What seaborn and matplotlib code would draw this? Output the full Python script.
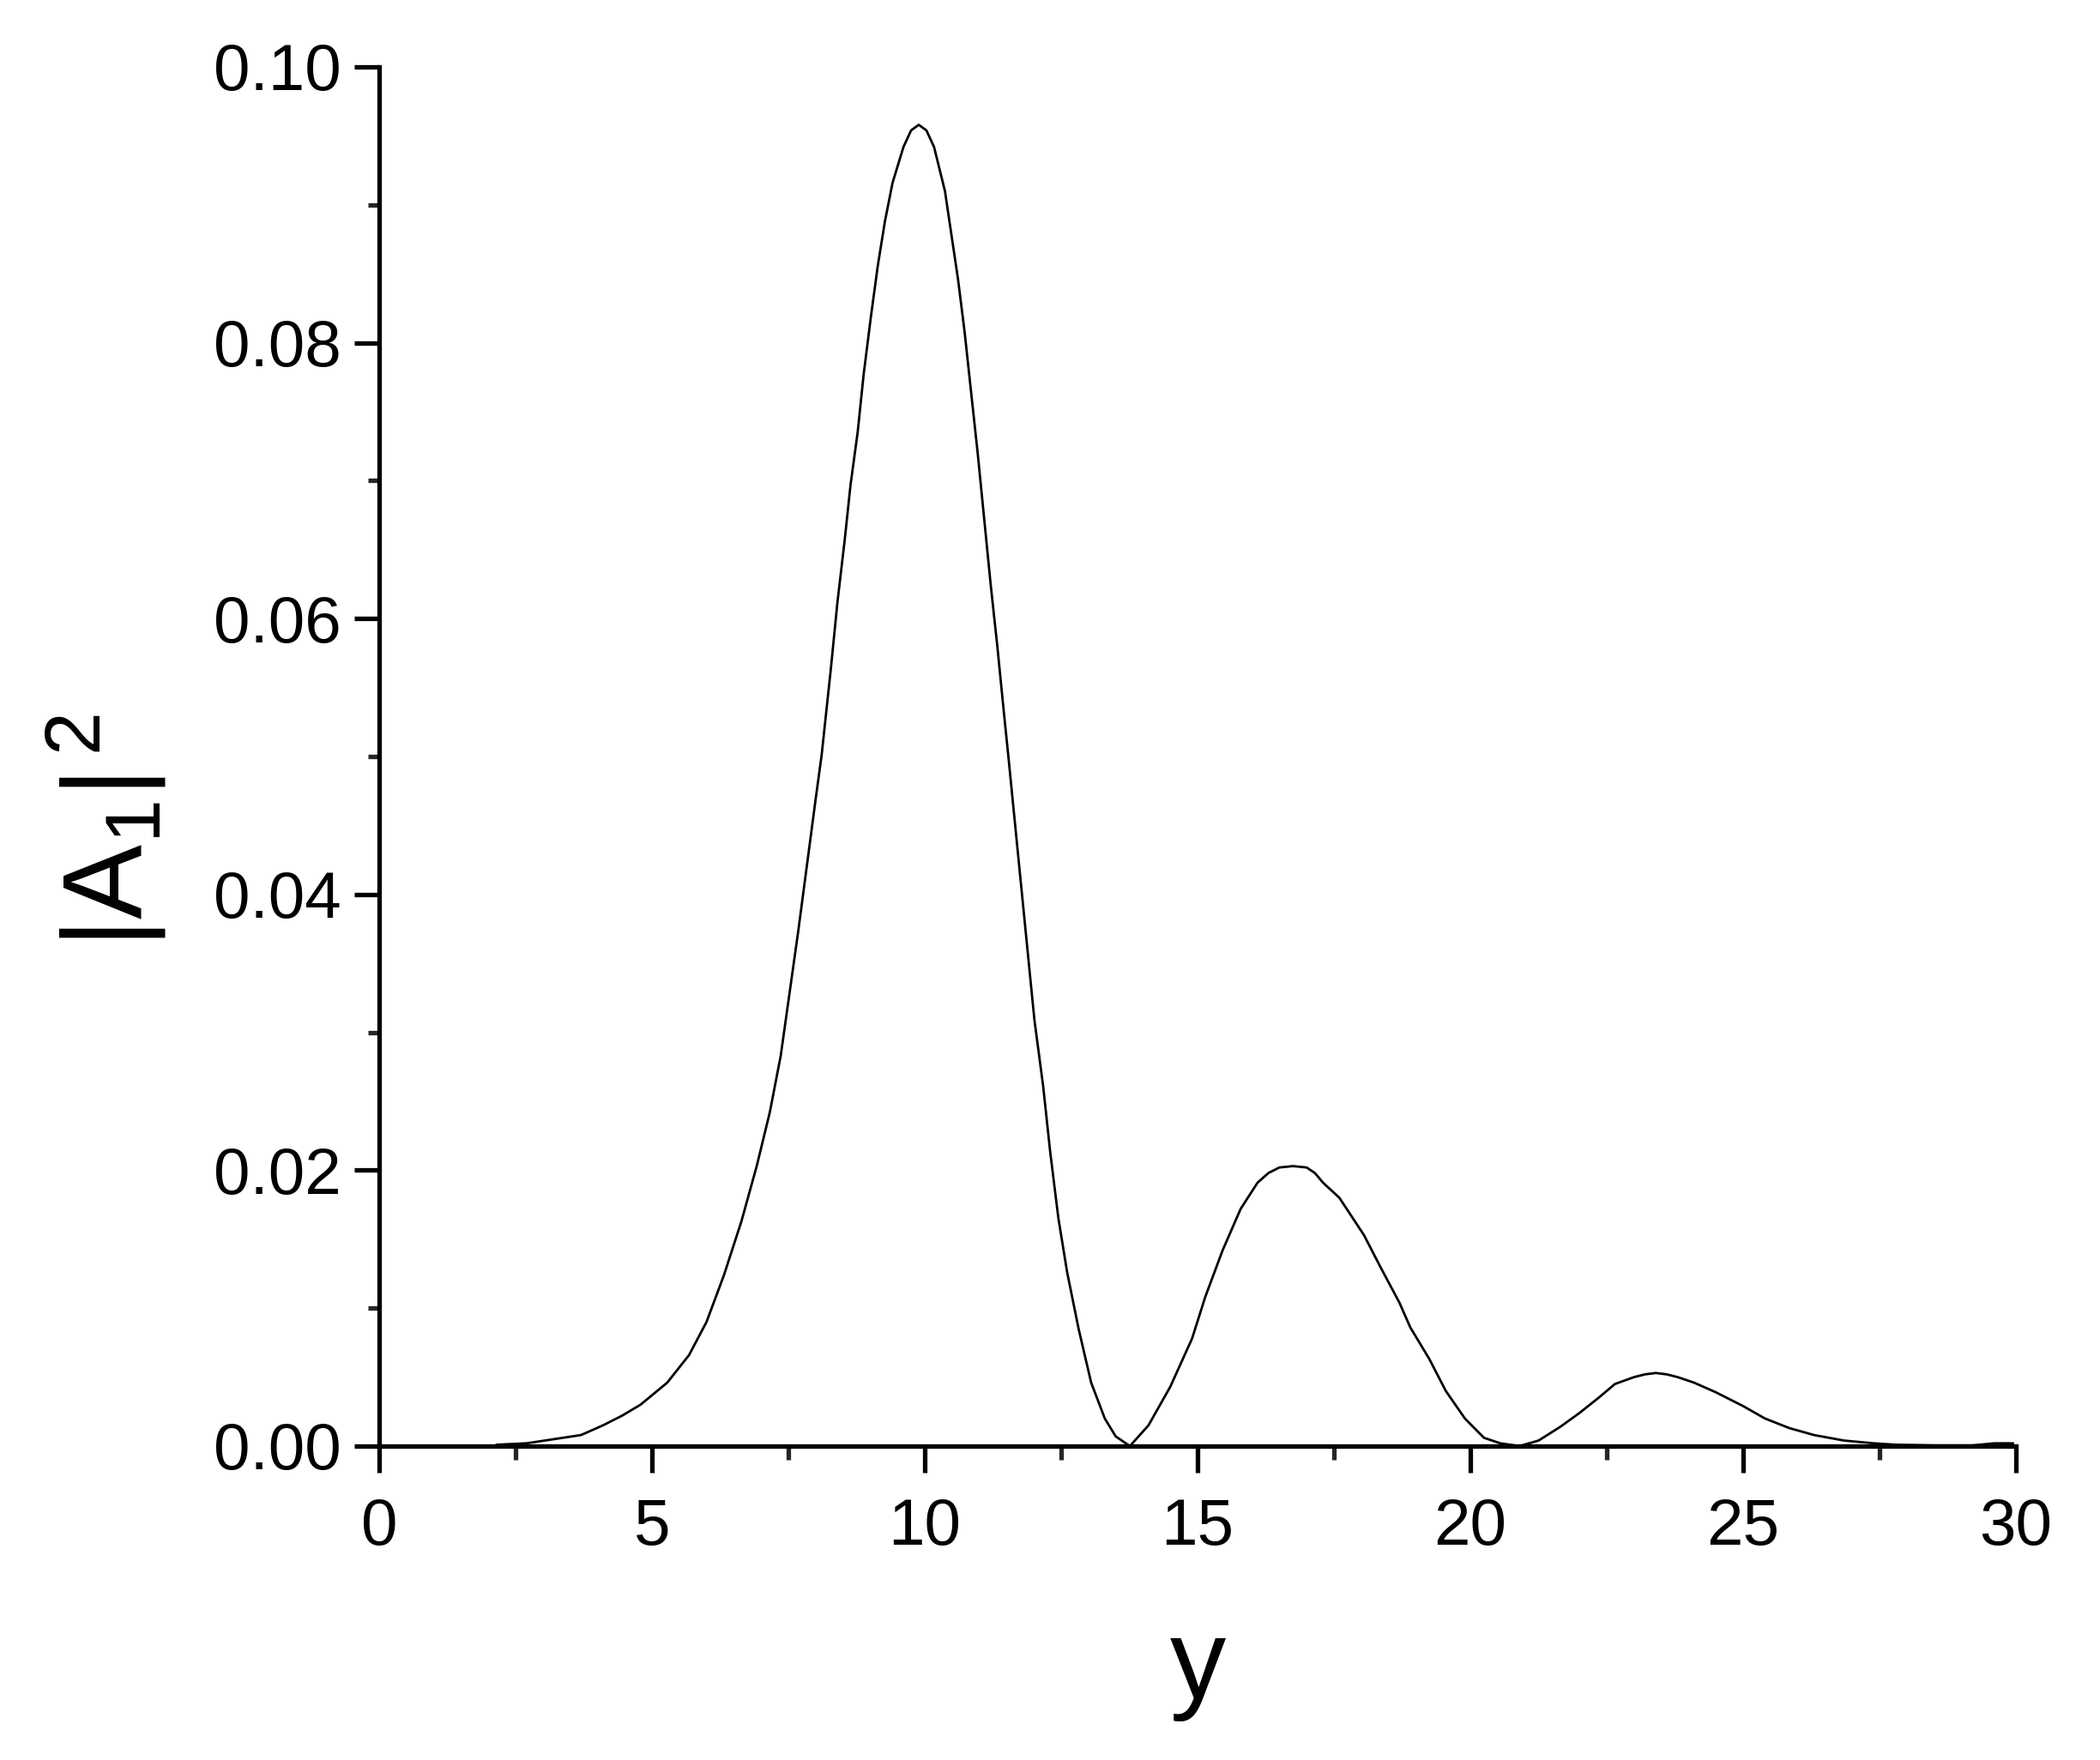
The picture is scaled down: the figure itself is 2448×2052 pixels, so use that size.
import matplotlib
matplotlib.use("Agg")
import matplotlib.pyplot as plt
from matplotlib.ticker import MultipleLocator, FormatStrFormatter
import seaborn as sns
import pandas as pd

# ---- data ----
y_pos = [2.15, 2.7, 3.2, 3.7, 4.1, 4.45, 4.79, 5.28, 5.68, 6.0, 6.32, 6.64, 6.92,
         7.16, 7.36, 7.52, 7.68, 7.84, 8.0, 8.11, 8.28, 8.40, 8.53, 8.64, 8.77,
         8.88, 9.01, 9.14, 9.27, 9.41, 9.61, 9.75, 9.89, 10.03, 10.17, 10.37,
         10.49, 10.61, 10.73, 10.85, 10.97, 11.09, 11.21, 11.33, 11.45, 11.53,
         11.65, 11.77, 11.89, 12.01, 12.17, 12.30, 12.45, 12.61, 12.82, 13.05,
         13.3, 13.5, 13.76, 14.1, 14.5, 14.9, 15.14, 15.46, 15.79, 16.1, 16.3,
         16.5, 16.75, 17.0, 17.15, 17.3, 17.6, 17.8, 18.05, 18.35, 18.7, 18.9,
         19.25, 19.55, 19.9, 20.25, 20.55, 20.9, 21.25, 21.65, 22.0, 22.35,
         22.65, 23.0, 23.2, 23.4, 23.6, 23.8, 24.1, 24.5, 25.0, 25.4, 25.85,
         26.3, 26.85, 27.4, 27.8, 28.5, 29.2, 29.6, 29.95]
a1_sq = [0.0001, 0.0002, 0.0005, 0.0008, 0.0015, 0.0022, 0.0030, 0.0046, 0.0066,
         0.0090, 0.0124, 0.0163, 0.0203, 0.0242, 0.0283, 0.0328, 0.0373, 0.0421,
         0.0469, 0.0501, 0.0564, 0.0612, 0.0656, 0.0697, 0.0735, 0.0777, 0.0818,
         0.0856, 0.0888, 0.0916, 0.0942, 0.0954, 0.0958, 0.0954, 0.0942, 0.0910,
         0.0878, 0.0846, 0.0808, 0.0764, 0.0720, 0.0672, 0.0624, 0.0580, 0.0532,
         0.0501, 0.0453, 0.0405, 0.0357, 0.0309, 0.0261, 0.0213, 0.0165, 0.0126,
         0.0085, 0.0046, 0.0020, 0.0007, 0.0000, 0.0015, 0.0043, 0.0078, 0.0108,
         0.0142, 0.0172, 0.0191, 0.0198, 0.0202, 0.0203, 0.0202, 0.0198, 0.0191,
         0.0180, 0.0168, 0.0153, 0.0130, 0.0104, 0.0086, 0.0063, 0.0040, 0.0020,
         0.0006, 0.0002, 0.0000, 0.0004, 0.0014, 0.0024, 0.0035, 0.0045, 0.0050,
         0.0052, 0.0053, 0.0052, 0.0050, 0.0046, 0.0039, 0.0029, 0.0020, 0.0013,
         0.0008, 0.0004, 0.0002, 0.0001, 0.00005, 0.00005, 0.0002, 0.0002]

x_ticks = [0, 5, 10, 15, 20, 25, 30]
y_ticks = [0.00, 0.02, 0.04, 0.06, 0.08, 0.10]
x_label = "y"
y_label = r"$|A_1|^{\,2}$"

df = pd.DataFrame({"y": y_pos, "A": a1_sq})

sns.set_theme(style="ticks")
plt.rcParams["font.family"] = ["Liberation Sans", "DejaVu Sans"]
plt.rcParams["mathtext.fontset"] = "custom"
plt.rcParams["mathtext.rm"] = "Liberation Sans"
plt.rcParams["mathtext.it"] = "Liberation Sans"
plt.rcParams["mathtext.bf"] = "Liberation Sans:bold"
plt.rcParams["mathtext.default"] = "regular"

fig = plt.figure(figsize=(24.48, 20.52), dpi=100)
ax = fig.add_axes([442 / 2448, 1 - 1686 / 2052, 1908 / 2448, 1608 / 2052])

sns.lineplot(data=df, x="y", y="A", color="black", linewidth=2.0, ax=ax,
             estimator=None, sort=False)

ax.set_xlim(0, 30)
ax.set_ylim(0, 0.10)
ax.set_xticks(x_ticks)
ax.set_yticks(y_ticks)
ax.xaxis.set_minor_locator(MultipleLocator(2.5))
ax.yaxis.set_minor_locator(MultipleLocator(0.01))
ax.yaxis.set_major_formatter(FormatStrFormatter("%.2f"))
ax.xaxis.set_major_formatter(FormatStrFormatter("%d"))

for s in ["top", "right"]:
    ax.spines[s].set_visible(False)
for s in ["left", "bottom"]:
    ax.spines[s].set_linewidth(3.8)
    ax.spines[s].set_color("black")

ax.tick_params(axis="x", which="major", direction="out", length=22, width=3.8,
               labelsize=55, pad=21, colors="black")
ax.tick_params(axis="x", which="minor", direction="out", length=11.5, width=3.8)
ax.tick_params(axis="y", which="major", direction="out", length=21, width=3.8,
               labelsize=55, pad=11, colors="black")
ax.tick_params(axis="y", which="minor", direction="out", length=9.5, width=3.8)

ax.set_xlabel(x_label, fontsize=94, color="black")
ax.set_ylabel(y_label, fontsize=94, color="black")
ax.xaxis.set_label_coords(0.5, -0.123)
ax.yaxis.set_label_coords(-0.129, 0.446)

fig.savefig("out.png", dpi=100, facecolor="white")
